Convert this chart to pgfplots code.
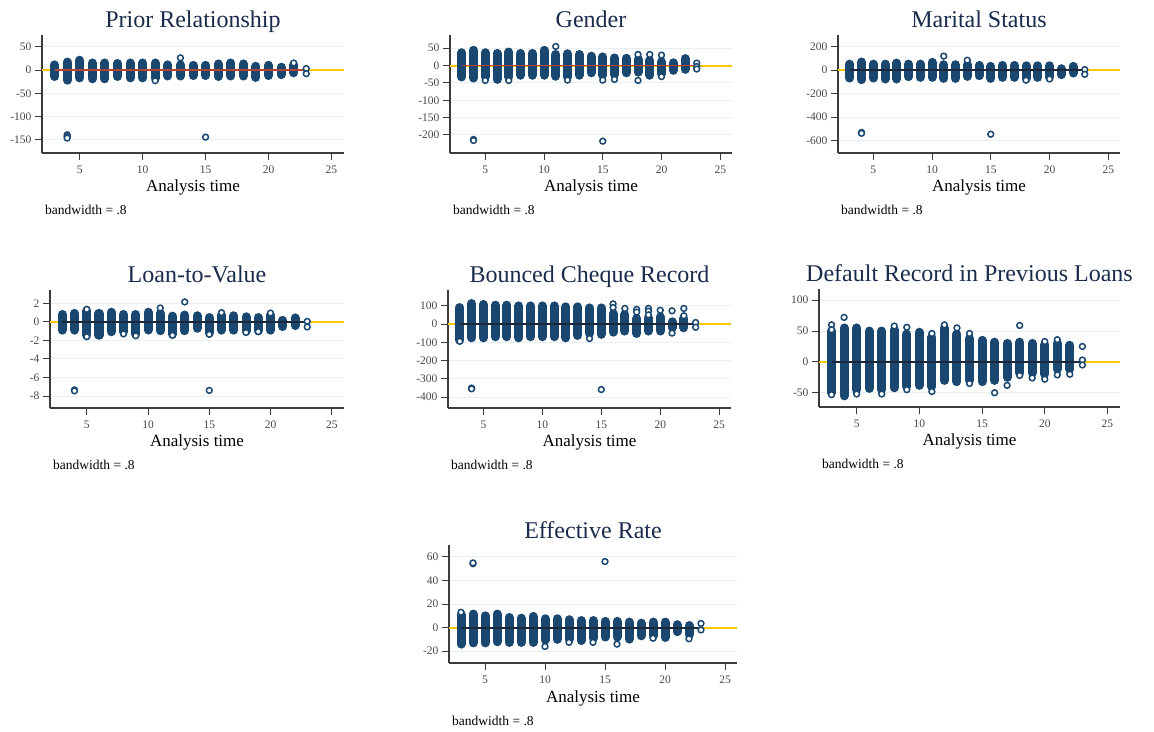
\documentclass[border=0pt]{standalone}
\usepackage{fontspec}
\setmainfont{Liberation Serif}
\usepackage{pgfplots}
\usepackage{pgfplotstable}
\pgfplotsset{compat=1.18}

\definecolor{navy}{RGB}{26,71,111}
\definecolor{titlecol}{RGB}{26,43,76}
\definecolor{gold}{RGB}{245,200,0}
\definecolor{lowred}{RGB}{185,65,50}
\definecolor{lowdark}{RGB}{30,40,60}
\definecolor{gridcol}{RGB}{232,239,242}
\definecolor{axcol}{RGB}{60,60,60}
\definecolor{tickcol}{RGB}{70,70,70}

% columns: t lo hi (centres of the first and last circle of each time)
\pgfplotstableread{
t lo hi
3 -14 11
4 -22 17
5 -17 21
6 -19 15
7 -19 15
8 -14 14
9 -17 15
10 -17 15
11 -18 15
12 -13 11
13 -13 11
14 -12 10
15 -12 10
16 -14 13
17 -13 15
18 -13 13
19 -16 8
20 -12 10
21 -10 6
22 -6 11
}\colsA
\pgfplotstableread{
t y
11 -23
13 26
22 15
23 3
23 -8
4 -139
4 -143
4 -146
15 -144
}\ptsA

\pgfplotstableread{
t lo hi
3 -33 37
4 -36 44
5 -33 37
6 -40 35
7 -33 39
8 -28 35
9 -28 35
10 -28 44
11 -31 32
12 -33 34
13 -28 32
14 -21 27
15 -28 25
16 -26 22
17 -21 21
18 -19 18
19 -28 15
20 -24 11
21 -14 8
22 -11 20
}\colsB
\pgfplotstableread{
t y
5 -43
7 -43
11 55
12 -42
15 -42
16 -40
18 32
18 -43
19 32
20 30
20 -32
23 7
23 -3
23 -10
4 -213
4 -216
15 -218
}\ptsB

\pgfplotstableread{
t lo hi
3 -67 52
4 -81 70
5 -67 52
6 -75 52
7 -75 61
8 -55 52
9 -61 52
10 -61 67
11 -70 47
12 -70 47
13 -53 47
14 -47 41
15 -70 33
16 -61 41
17 -61 41
18 -70 38
19 -61 38
20 -61 38
21 -38 13
22 -24 33
}\colsC
\pgfplotstableread{
t y
11 120
13 85
18 -85
20 -75
23 5
23 -35
4 -530
4 -537
15 -545
}\ptsC

\pgfplotstableread{
t lo hi
3 -0.9 0.8
4 -0.9 0.92
5 -1.45 1.19
6 -1.45 0.92
7 -1.07 1.04
8 -1.07 0.8
9 -1.34 0.8
10 -0.89 1.04
11 -0.96 0.92
12 -1.34 0.62
13 -0.96 0.74
14 -0.7 0.66
15 -1.2 0.47
16 -0.9 0.74
17 -0.9 0.66
18 -0.96 0.55
19 -0.96 0.47
20 -0.9 0.74
21 -0.51 0.17
22 -0.4 0.43
}\colsD
\pgfplotstableread{
t y
5 1.35
5 -1.6
8 -1.3
9 -1.5
11 1.5
12 -1.45
13 2.15
15 -1.35
16 1.0
18 -1.15
19 -1.05
20 0.95
23 0.05
23 -0.55
4 -7.35
4 -7.45
15 -7.4
}\ptsD

\pgfplotstableread{
t lo hi
3 -89 90
4 -76 112
5 -76 107
6 -70 103
7 -70 103
8 -76 99
9 -70 99
10 -70 99
11 -70 99
12 -76 94
13 -63 94
14 -52 88
15 -57 88
16 -45 57
17 -39 52
18 -52 30
19 -39 34
20 -39 39
21 -21 12
22 -21 30
}\colsE
\pgfplotstableread{
t y
3 -95
14 -80
16 110
16 90
17 85
18 80
18 65
19 85
19 70
19 50
20 75
21 72
21 -50
22 85
22 45
23 8
23 -18
4 -351
4 -355
15 -359
}\ptsE

\pgfplotstableread{
t lo hi
3 -50 50
4 -55 55
5 -45 55
6 -43 50
7 -45 50
8 -42 52
9 -40 45
10 -38 48
11 -40 40
12 -30 55
13 -32 45
14 -30 38
15 -32 35
16 -30 32
17 -25 30
18 -18 32
19 -18 30
20 -20 28
21 -12 30
22 -12 27
}\colsF
\pgfplotstableread{
t y
3 60
3 52
3 -53
4 72
5 -52
7 -52
8 58
9 56
9 -45
11 46
11 -48
12 60
13 55
14 46
14 -35
16 -50
17 -38
18 59
18 -22
19 -26
20 33
20 -28
21 36
21 -21
22 -20
23 25
23 3
23 -5
}\ptsF

\pgfplotstableread{
t lo hi
3 -14 11
4 -13 11.5
5 -13 10
6 -12 11.5
7 -12.6 8.6
8 -12.6 8
9 -12.6 9.5
10 -10.5 7.5
11 -10 7.5
12 -10 6.7
13 -11 6
14 -9 6
15 -8 5.3
16 -8 5.3
17 -9.8 4.7
18 -7 3.8
19 -7 4.7
20 -8.4 4.7
21 -3.5 2.5
22 -6 1.8
}\colsG
\pgfplotstableread{
t y
3 13
10 -16
12 -12.5
14 -12.5
16 -14
19 -9
22 -9.5
23 3.5
23 -2
4 54.2
4 54.8
15 56
}\ptsG

\pgfplotsset{
  resid/.style={
    scale only axis, height=118pt, anchor=south west,
    xmin=2, xmax=26, xtick={5,10,15,20,25},
    axis x line*=bottom, axis y line*=left,
    axis line style={draw=axcol, line width=1.1pt},
    tick align=outside, major tick length=7pt,
    tick style={draw=axcol, line width=0.9pt},
    every tick label/.append style={font=\fontsize{11.5}{11.5}\selectfont, text=tickcol},
    xticklabel style={yshift=-2pt},
    /pgf/number format/assume math mode=true,
    ymajorgrids, grid style={draw=gridcol, line width=0.9pt},
    title style={at={(0.5,1)}, anchor=base, yshift=1pt,
      font=\fontsize{24}{24}\selectfont, text=titlecol},
    xlabel={Analysis time},
    xlabel style={at={(0.5,0)}, anchor=base, yshift=-39pt,
      font=\fontsize{17}{17}\selectfont, text=black},
    after end axis/.code={
      \node[anchor=base west, inner sep=0pt, font=\fontsize{13.5}{13.5}\selectfont]
        at ([xshift=3pt,yshift=-62pt]rel axis cs:0,0) {bandwidth = .8};
    },
  },
  cols/.style={draw=none, mark=none,
    error bars/.cd, y dir=plus, y explicit, error mark=none,
    error bar style={draw=navy, line width=9pt, line cap=round}},
  pts/.style={only marks, mark=*, mark size=2.9pt,
    mark options={draw=navy, fill=white, line width=1.5pt}},
  zero/.style={draw=gold, line width=2pt},
}

\newcommand{\residplots}[3]{%
  \addplot[zero] coordinates {(2,0) (26,0)};
  \addplot[cols] table[x=t, y=lo, y error expr=\thisrow{hi}-\thisrow{lo}] {#1};
  \addplot[draw=#3, line width=1.8pt] coordinates {(3,0) (23,0)};
  \addplot[pts] table[x=t, y=y] {#2};
}

\begin{document}
\begin{tikzpicture}[x=1pt,y=1pt]
\useasboundingbox (0,0) rectangle (1154,731);

\begin{axis}[resid, at={(42pt,578pt)}, width=302pt,
  ymin=-178, ymax=75, ytick={-150,-100,-50,0,50},
  title={Prior Relationship}]
  \residplots{\colsA}{\ptsA}{lowred}
\end{axis}

\begin{axis}[resid, at={(450pt,578pt)}, width=282pt,
  ymin=-252, ymax=88, ytick={-200,-150,-100,-50,0,50},
  title={Gender}]
  \residplots{\colsB}{\ptsB}{lowred}
\end{axis}

\begin{axis}[resid, at={(838pt,578pt)}, width=282pt,
  ymin=-705, ymax=300, ytick={-600,-400,-200,0,200},
  title={Marital Status}]
  \residplots{\colsC}{\ptsC}{lowdark}
\end{axis}

\begin{axis}[resid, at={(50pt,323pt)}, width=294pt,
  ymin=-9.3, ymax=3.44, ytick={-8,-6,-4,-2,0,2},
  title={Loan-to-Value}]
  \residplots{\colsD}{\ptsD}{lowdark}
\end{axis}

\begin{axis}[resid, at={(448pt,323pt)}, width=283pt,
  ymin=-460, ymax=186, ytick={-400,-300,-200,-100,0,100},
  title={Bounced Cheque Record}]
  \residplots{\colsE}{\ptsE}{lowdark}
\end{axis}

\begin{axis}[resid, at={(819pt,324pt)}, width=301pt,
  ymin=-73, ymax=118, ytick={-50,0,50,100},
  title={Default Record in Previous Loans}]
  \residplots{\colsF}{\ptsF}{lowdark}
\end{axis}

\begin{axis}[resid, at={(449pt,68pt)}, width=288pt,
  ymin=-30, ymax=70, ytick={-20,0,20,40,60},
  title={Effective Rate}]
  \residplots{\colsG}{\ptsG}{lowdark}
\end{axis}
\end{tikzpicture}
\end{document}
